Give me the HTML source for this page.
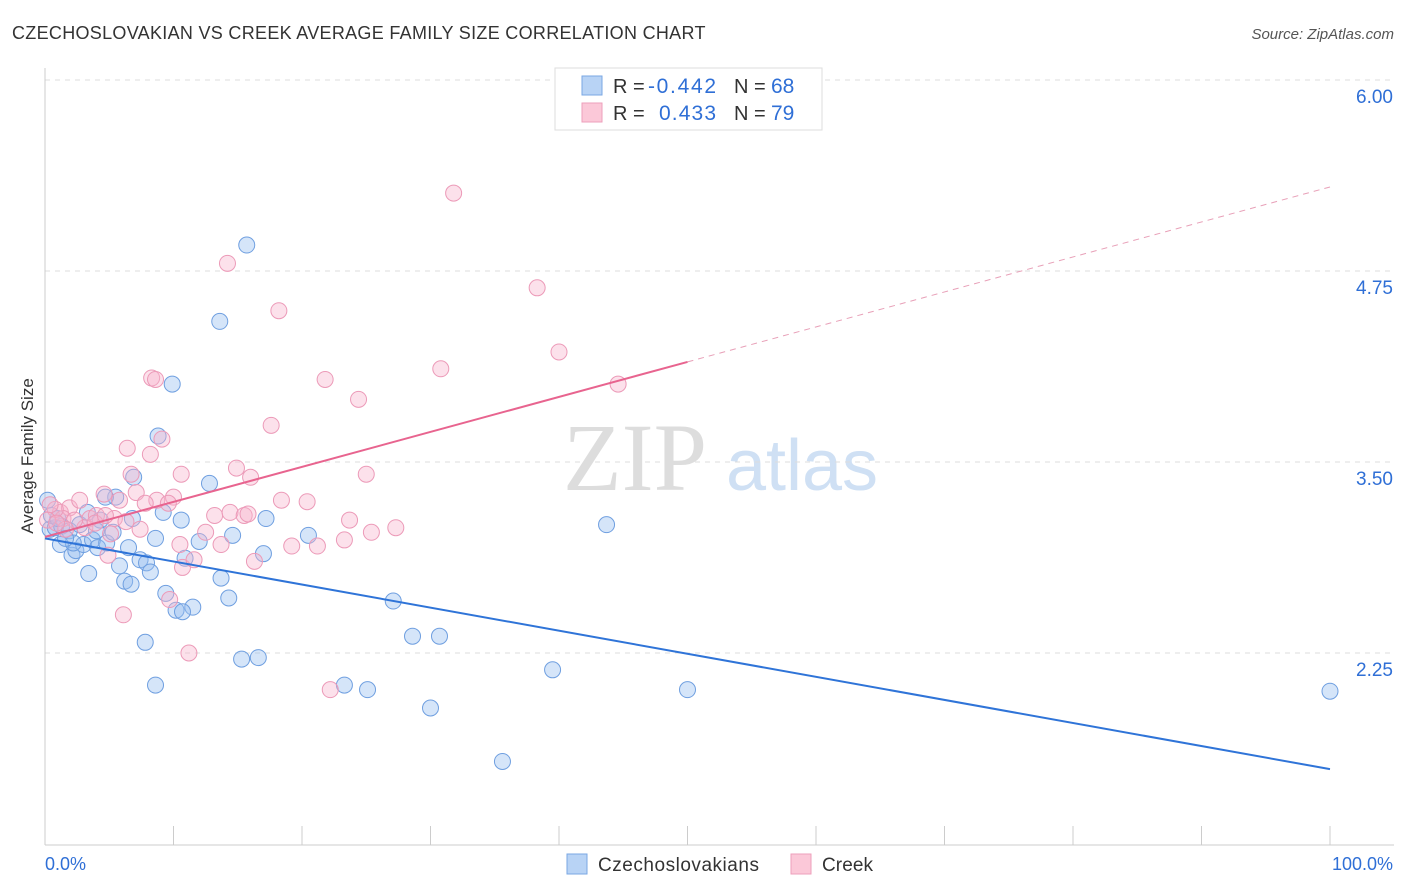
<!DOCTYPE html>
<html><head><meta charset="utf-8"><style>
body{margin:0;background:#fff;font-family:"Liberation Sans",sans-serif}
svg{display:block}
</style></head><body>
<svg id="c" width="1406" height="892" xmlns="http://www.w3.org/2000/svg" xml:space="preserve">
<text x="12" y="39" font-size="18" fill="#333" letter-spacing="0.3">CZECHOSLOVAKIAN VS CREEK AVERAGE FAMILY SIZE CORRELATION CHART</text>
<text x="1394" y="39" font-size="15" fill="#555" font-style="italic" text-anchor="end">Source: ZipAtlas.com</text>
<text x="33" y="456" font-size="17" fill="#333" text-anchor="middle" transform="rotate(-90 33 456)">Average Family Size</text>
<g><text x="635" y="490" font-size="96" fill="#ddd" font-family="Liberation Serif" text-anchor="middle">ZIP</text><text x="802" y="490" font-size="72" fill="#cfe0f4" text-anchor="middle">atlas</text></g>
<g id="grid"></g><g id="marks"></g>
<g>
<rect x="555" y="68" width="267" height="62" fill="#fff" stroke="#ddd"/>
<rect x="582" y="76" width="20" height="19" fill="#b8d3f5" stroke="#7aa7e3"/>
<rect x="582" y="103" width="20" height="19" fill="#fbc8d8" stroke="#ee9fbb"/>
<text x="613" y="93" font-size="20" fill="#333">R =</text><text x="648" y="93" font-size="21" fill="#2f6fd6" textLength="68">-0.442</text><text x="734" y="93" font-size="20" fill="#333">N =</text><text x="771" y="93" font-size="21" fill="#2f6fd6">68</text>
<text x="613" y="120" font-size="20" fill="#333">R =</text><text x="659" y="120" font-size="21" fill="#2f6fd6" textLength="57">0.433</text><text x="734" y="120" font-size="20" fill="#333">N =</text><text x="771" y="120" font-size="21" fill="#2f6fd6">79</text>
</g>
<g>
<rect x="567" y="854" width="20" height="20" fill="#b8d3f5" stroke="#7aa7e3"/><text x="598" y="871" font-size="19" fill="#333" textLength="161">Czechoslovakians</text>
<rect x="791" y="854" width="20" height="20" fill="#fbc8d8" stroke="#ee9fbb"/><text x="822" y="871" font-size="19" fill="#333" textLength="51">Creek</text>
</g>
<text x="45" y="870" font-size="18" fill="#2f6fd6">0.0%</text>
<text x="1393" y="870" font-size="18" fill="#2f6fd6" text-anchor="end">100.0%</text>
</svg>
<script>
const yTicks=[6.00,4.75,3.50,2.25];
const blueX=[15.7,13.6,9.9,8.8,12.8,6.9,5.5,4.7,9.2,10.6,6.8,17.2,20.5,14.6,12.0,8.6,6.5,17.0,10.9,7.4,7.9,5.8,8.2,3.4,13.7,6.2,6.7,9.4,14.3,11.5,10.2,10.7,27.1,28.6,30.7,7.8,15.3,16.6,8.6,23.3,25.1,39.5,50.0,30.0,35.6,100,43.7,1.2,2.1,2.4,3.0,3.7,4.1,4.8,0.4,0.8,1.3,1.9,2.7,3.3,4.3,5.3,2.2,4.0,0.5,0.2,1.6,1.0];
const blueY=[4.92,4.42,4.01,3.67,3.36,3.40,3.27,3.27,3.17,3.12,3.13,3.13,3.02,3.02,2.98,3.00,2.94,2.90,2.87,2.86,2.84,2.82,2.78,2.77,2.74,2.72,2.70,2.64,2.61,2.55,2.53,2.52,2.59,2.36,2.36,2.32,2.21,2.22,2.04,2.04,2.01,2.14,2.01,1.89,1.54,2.00,3.09,2.96,2.89,2.92,2.96,2.99,2.94,2.97,3.06,3.07,3.08,3.05,3.09,3.17,3.12,3.04,2.97,3.05,3.15,3.25,3.00,3.13];
const pinkX=[31.8,14.2,18.2,38.3,40.0,30.8,21.8,44.6,8.3,8.6,24.4,17.6,9.1,8.2,6.4,10.6,14.9,16.0,25.0,6.7,4.6,7.1,5.8,10.0,8.7,9.6,7.8,18.4,20.4,13.2,14.4,15.5,15.8,23.7,27.3,25.4,23.3,12.5,13.7,19.2,21.2,5.1,5.4,6.3,3.5,4.0,1.2,1.9,2.7,1.4,0.8,0.4,4.9,10.7,11.6,16.3,10.5,6.1,9.7,11.2,22.2,3.1,2.3,3.9,4.7,7.4,1.6,0.2,0.9];
const pinkY=[5.26,4.80,4.49,4.64,4.22,4.11,4.04,4.01,4.05,4.04,3.91,3.74,3.65,3.55,3.59,3.42,3.46,3.40,3.42,3.42,3.29,3.30,3.25,3.27,3.25,3.23,3.23,3.25,3.24,3.15,3.17,3.15,3.16,3.12,3.07,3.04,2.99,3.04,2.96,2.95,2.95,3.03,3.13,3.11,3.13,3.15,3.17,3.20,3.25,3.13,3.19,3.22,2.89,2.81,2.86,2.85,2.96,2.50,2.60,2.25,2.01,3.07,3.12,3.10,3.15,3.06,3.06,3.12,3.10];
const blueTrend=[3.00,1.49];
const pinkTrend=[3.01,5.30];
const NS="http://www.w3.org/2000/svg";
const X=v=>45+v*12.85, Y=v=>80+(6-v)*152.8;
function mk(t,a,p){const e=document.createElementNS(NS,t);for(const k in a)e.setAttribute(k,a[k]);(p||document.getElementById('marks')).appendChild(e);return e;}
const grid=document.getElementById('grid');
yTicks.forEach(t=>{
 const l=mk('line',{x1:45,x2:1394,y1:Y(t),y2:Y(t),stroke:'#ddd','stroke-dasharray':'5,5'},grid);
 
 
 const tx=mk('text',{x:1393,y:Y(t)+23,'font-size':19,fill:'#2f6fd6','text-anchor':'end'},grid);
 tx.textContent=t.toFixed(2);
 
 
});
mk('line',{x1:45,x2:45,y1:68,y2:845,stroke:'#ccc'},grid);
mk('line',{x1:45,x2:1394,y1:845,y2:845,stroke:'#ccc'},grid);
for(let i=0;i<=10;i++){mk('line',{x1:X(i*10),x2:X(i*10),y1:826,y2:845,stroke:'#ccc'},grid);}
blueX.forEach((x,i)=>{const c=mk('circle',{cx:X(x),cy:Y(blueY[i]),r:8,fill:'rgba(150,190,240,0.4)',stroke:'#6f9fe0','stroke-width':1});
 
 });
pinkX.forEach((x,i)=>{const c=mk('circle',{cx:X(x),cy:Y(pinkY[i]),r:8,fill:'rgba(248,180,205,0.4)',stroke:'#ec9ab8','stroke-width':1});
 
 });
const bl=mk('line',{x1:X(0),y1:Y(blueTrend[0]),x2:X(100),y2:Y(blueTrend[1]),stroke:'#2f74d8','stroke-width':2});


const pm=pinkTrend[0]+(pinkTrend[1]-pinkTrend[0])*0.5;
const pl=mk('line',{x1:X(0),y1:Y(pinkTrend[0]),x2:X(50),y2:Y(pm),stroke:'#e8648f','stroke-width':2});


const pd=mk('line',{x1:X(50),y1:Y(pm),x2:X(100),y2:Y(pinkTrend[1]),stroke:'#e8a0b8','stroke-width':1,'stroke-dasharray':'6,5'});


</script>
</body></html>
